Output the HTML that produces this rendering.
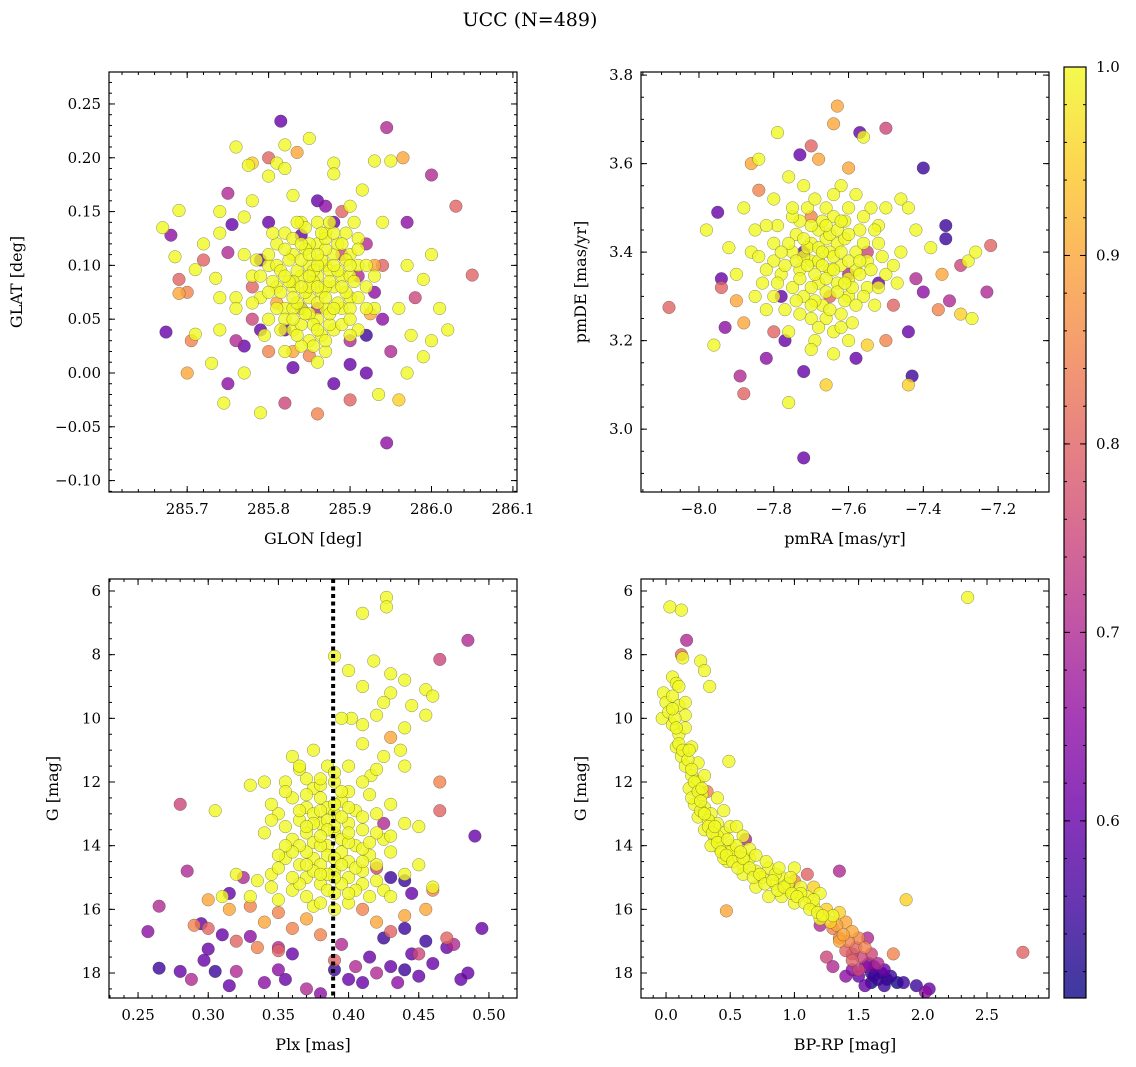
<!DOCTYPE html>
<html><head><meta charset="utf-8"><style>
html,body{margin:0;padding:0;background:#fff;}
svg{display:block;font-family:"DejaVu Serif","Liberation Serif",serif;}
</style></head><body>
<svg id="fig" width="1136" height="1067" viewBox="0 0 1136 1067" xmlns="http://www.w3.org/2000/svg">
<text x="530" y="26" font-size="19" text-anchor="middle">UCC (N=489)</text>
</svg>
<script>
// ---- data: [x, y, probability] per panel ----
const glonGlat = [[285.67,0.135,1],[285.674,0.038,0.6],[285.68,0.128,0.65],[285.685,0.108,1],[285.69,0.151,1],[285.69,0.087,0.8],[285.69,0.074,0.9],[285.7,0.075,0.85],[285.7,0.0,0.9],[285.705,0.03,0.85],[285.71,0.036,1],[285.71,0.096,1],[285.72,0.12,1],[285.72,0.105,0.8],[285.73,0.009,1],[285.735,0.088,1],[285.74,0.15,1],[285.74,0.13,1],[285.74,0.07,1],[285.74,0.04,1],[285.745,-0.028,1],[285.75,0.167,0.7],[285.75,0.112,0.7],[285.75,-0.01,0.65],[285.755,0.138,0.6],[285.76,0.21,1],[285.76,0.07,1],[285.76,0.03,0.7],[285.77,0.145,1],[285.77,0.0,1],[285.775,0.193,1],[285.78,0.195,0.95],[285.78,0.16,1],[285.78,0.08,0.8],[285.785,0.105,1],[285.79,0.04,0.6],[285.79,-0.037,1],[285.8,0.2,0.8],[285.8,0.183,1],[285.8,0.14,0.6],[285.81,0.195,1],[285.81,0.065,0.9],[285.815,0.234,0.6],[285.82,0.212,1],[285.82,0.19,1],[285.82,-0.028,0.75],[285.83,0.165,1],[285.83,0.005,0.6],[285.835,0.205,0.9],[285.84,0.128,0.6],[285.85,0.218,1],[285.85,0.016,0.85],[285.86,-0.038,0.85],[285.86,0.16,0.6],[285.87,0.155,0.65],[285.88,0.195,1],[285.88,0.185,1],[285.88,-0.01,0.6],[285.89,0.15,0.8],[285.9,0.155,1],[285.9,0.008,0.6],[285.905,0.14,1],[285.91,0.125,1],[285.915,0.17,1],[285.92,0.035,0.55],[285.92,0.12,0.7],[285.925,0.055,0.9],[285.93,0.197,1],[285.93,0.1,0.9],[285.935,-0.02,1],[285.94,0.14,1],[285.94,0.05,0.65],[285.945,0.228,0.7],[285.945,-0.065,0.65],[285.95,0.197,1],[285.95,0.02,0.7],[285.96,0.06,1],[285.965,0.2,0.9],[285.97,0.14,0.65],[285.97,0.1,1],[285.97,0.0,1],[285.975,0.035,1],[285.98,0.07,0.75],[285.99,0.087,1],[285.99,0.015,1],[286.0,0.184,0.7],[286.0,0.03,1],[286.0,0.11,1],[286.01,0.06,1],[286.02,0.04,1],[286.03,0.155,0.8],[286.05,0.091,0.8],[285.96,-0.025,0.95],[285.9,-0.025,0.8],[285.77,0.025,0.6],[285.79,0.105,0.6],
[285.80,0.10,1],[285.81,0.08,1],[285.82,0.06,1],[285.83,0.11,1],[285.84,0.09,1],[285.85,0.07,1],[285.86,0.12,1],[285.87,0.10,1],[285.88,0.08,1],[285.89,0.06,1],[285.82,0.13,1],[285.83,0.04,1],[285.84,0.14,1],[285.85,0.10,1],[285.86,0.05,1],[285.87,0.13,1],[285.88,0.11,1],[285.89,0.09,1],[285.90,0.07,1],[285.91,0.10,1],[285.79,0.07,1],[285.80,0.05,1],[285.81,0.12,1],[285.83,0.08,1],[285.84,0.06,1],[285.85,0.12,1],[285.86,0.09,1],[285.87,0.06,1],[285.88,0.04,1],[285.90,0.11,1],[285.78,0.09,1],[285.82,0.02,1],[285.85,0.03,1],[285.86,0.01,1],[285.87,0.02,1],[285.84,0.025,1],[285.92,0.08,1],[285.93,0.06,1],[285.91,0.04,1],[285.76,0.06,1],[285.77,0.11,1],[285.845,0.115,1],[285.855,0.085,1],[285.865,0.075,1],[285.835,0.095,1],[285.825,0.105,1],[285.875,0.095,1],[285.815,0.075,1],[285.885,0.12,1],[285.895,0.13,1],[285.805,0.13,1],[285.795,0.035,1],[285.86,0.14,1],[285.84,0.045,1],[285.875,0.045,1],[285.9,0.09,1],[285.81,0.1,1],[285.83,0.06,1],[285.87,0.08,1],[285.85,0.055,1],
[285.82,0.04,0.6],[285.86,0.06,0.7],[285.89,0.11,0.75],[285.91,0.09,0.7],[285.88,0.14,0.6],[285.84,0.06,0.55],[285.93,0.075,0.65],[285.8,0.02,0.85],[285.83,0.02,0.9],[285.78,0.05,0.75],[285.94,0.1,0.8],[285.9,0.03,0.7],[285.92,0.0,0.6],
[285.83,0.085,1],[285.845,0.075,1],[285.855,0.095,1],[285.865,0.105,1],[285.875,0.085,1],[285.885,0.065,1],[285.895,0.075,1],[285.905,0.085,1],[285.835,0.065,1],[285.845,0.055,1],[285.855,0.045,1],[285.865,0.035,1],[285.875,0.055,1],[285.885,0.095,1],[285.895,0.105,1],[285.825,0.085,1],[285.815,0.095,1],[285.805,0.085,1],[285.82,0.115,1],[285.83,0.125,1],[285.84,0.105,1],[285.85,0.11,1],[285.86,0.1,1],[285.87,0.115,1],[285.88,0.1,1],[285.89,0.08,1],[285.9,0.06,1],[285.91,0.07,1],[285.86,0.065,1],[285.85,0.08,1],[285.84,0.08,1],[285.83,0.07,1],[285.82,0.09,1],[285.87,0.07,1],[285.88,0.06,1],[285.86,0.08,1],[285.85,0.09,1],[285.84,0.12,1],[285.87,0.125,1],[285.88,0.13,1],[285.89,0.12,1],[285.9,0.1,1],[285.81,0.06,1],[285.82,0.05,1],[285.83,0.05,1],[285.86,0.04,1],[285.87,0.03,1],[285.89,0.045,1],[285.9,0.05,1],[285.92,0.06,1],[285.92,0.1,1],[285.8,0.11,1],[285.79,0.09,1],[285.78,0.065,1],[285.8,0.075,1],[285.93,0.09,1],[285.91,0.115,1],[285.86,0.11,1],[285.845,0.135,1],[285.865,0.13,1],[285.835,0.14,1],[285.855,0.025,1],[285.835,0.035,1],[285.815,0.04,1],[285.875,0.14,1],[285.9,0.035,1]];

const pmraPmde = [[-8.08,3.275,0.8],[-7.95,3.49,0.6],[-7.94,3.34,0.6],[-7.93,3.23,0.65],[-7.94,3.32,0.8],[-7.96,3.19,1],[-7.98,3.45,1],[-7.9,3.29,0.9],[-7.89,3.12,0.7],[-7.88,3.08,0.8],[-7.88,3.24,0.9],[-7.86,3.6,0.9],[-7.84,3.61,1],[-7.84,3.54,0.85],[-7.82,3.16,0.65],[-7.8,3.22,0.8],[-7.79,3.67,1],[-7.77,3.2,0.6],[-7.76,3.06,1],[-7.73,3.62,0.6],[-7.72,2.935,0.6],[-7.72,3.13,0.6],[-7.7,3.64,0.8],[-7.68,3.61,0.9],[-7.66,3.1,0.95],[-7.64,3.69,0.9],[-7.63,3.73,0.9],[-7.6,3.59,0.9],[-7.58,3.16,0.6],[-7.57,3.67,0.6],[-7.56,3.66,1],[-7.55,3.19,0.95],[-7.52,3.33,0.6],[-7.5,3.68,0.75],[-7.5,3.2,0.85],[-7.46,3.52,1],[-7.44,3.22,0.6],[-7.44,3.1,0.95],[-7.43,3.12,0.55],[-7.42,3.34,0.7],[-7.4,3.59,0.55],[-7.4,3.31,0.65],[-7.38,3.41,1],[-7.36,3.27,0.85],[-7.34,3.46,0.55],[-7.34,3.43,0.55],[-7.33,3.29,0.7],[-7.3,3.26,0.95],[-7.3,3.37,0.75],[-7.28,3.38,1],[-7.26,3.4,1],[-7.27,3.25,1],[-7.23,3.31,0.7],[-7.22,3.415,0.8],[-7.35,3.35,0.9],[-7.48,3.28,0.8],[-7.46,3.4,1],[-7.44,3.5,1],[-7.42,3.45,1],[-7.52,3.46,1],[-7.5,3.5,1],[-7.8,3.3,1],[-7.82,3.27,1],[-7.85,3.45,1],[-7.86,3.4,1],[-7.88,3.5,1],[-7.9,3.35,1],[-7.92,3.41,1],[-7.8,3.52,1],[-7.76,3.57,1],[-7.72,3.55,1],[-7.62,3.55,1],[-7.58,3.53,1],
[-7.75,3.4,1],[-7.7,3.38,1],[-7.65,3.36,1],[-7.6,3.34,1],[-7.55,3.32,1],[-7.72,3.3,1],[-7.67,3.28,1],[-7.62,3.26,1],[-7.78,3.35,1],[-7.68,3.45,1],[-7.63,3.42,1],[-7.58,3.4,1],[-7.73,3.47,1],[-7.66,3.5,1],[-7.7,3.25,1],[-7.64,3.22,1],[-7.6,3.3,1],[-7.55,3.38,1],[-7.75,3.32,1],[-7.8,3.42,1],[-7.7,3.42,1],[-7.65,3.4,1],[-7.62,3.37,1],[-7.68,3.33,1],[-7.73,3.36,1],[-7.57,3.45,1],[-7.53,3.28,1],[-7.77,3.27,1],[-7.66,3.31,1],[-7.61,3.47,1],[-7.71,3.5,1],[-7.74,3.44,1],[-7.59,3.24,1],[-7.69,3.2,1],[-7.76,3.22,1],[-7.52,3.42,1],[-7.64,3.48,1],[-7.68,3.38,1],[-7.63,3.33,1],[-7.58,3.36,1],[-7.72,3.39,1],[-7.56,3.3,1],[-7.8,3.38,1],[-7.66,3.43,1],[-7.61,3.29,1],[-7.75,3.48,1],[-7.69,3.29,1],[-7.83,3.33,1],[-7.5,3.35,1],[-7.54,3.5,1],
[-7.6,3.35,0.7],[-7.72,3.4,0.6],[-7.65,3.3,0.8],[-7.7,3.48,0.85],[-7.55,3.4,0.75],[-7.78,3.3,0.6],
[-7.67,3.37,1],[-7.64,3.39,1],[-7.69,3.35,1],[-7.62,3.4,1],[-7.71,3.41,1],[-7.66,3.34,1],[-7.63,3.31,1],[-7.7,3.32,1],[-7.6,3.38,1],[-7.74,3.38,1],[-7.65,3.44,1],[-7.68,3.41,1],[-7.61,3.43,1],[-7.72,3.43,1],[-7.59,3.32,1],[-7.57,3.35,1],[-7.77,3.37,1],[-7.79,3.33,1],[-7.76,3.42,1],[-7.73,3.34,1],[-7.67,3.47,1],[-7.63,3.45,1],[-7.6,3.44,1],[-7.56,3.42,1],[-7.54,3.36,1],[-7.52,3.32,1],[-7.58,3.28,1],[-7.62,3.23,1],[-7.66,3.25,1],[-7.7,3.28,1],[-7.74,3.29,1],[-7.78,3.4,1],[-7.82,3.36,1],[-7.84,3.39,1],[-7.69,3.52,1],[-7.64,3.53,1],[-7.6,3.5,1],[-7.56,3.48,1],[-7.53,3.45,1],[-7.67,3.4,1],[-7.64,3.36,1],[-7.71,3.37,1],[-7.65,3.27,1],[-7.61,3.33,1],[-7.57,3.38,1],[-7.73,3.26,1],[-7.68,3.23,1],[-7.79,3.46,1],[-7.75,3.5,1],[-7.7,3.46,1],[-7.66,3.46,1],[-7.62,3.47,1],[-7.51,3.39,1],[-7.48,3.37,1],[-7.47,3.33,1],[-7.85,3.3,1],[-7.82,3.46,1],[-7.7,3.18,1],[-7.64,3.17,1],[-7.6,3.2,1]];

const plxG = [[0.427,6.2,1],[0.427,6.5,1],[0.41,6.7,1],[0.39,8.05,1],[0.4,8.5,1],[0.418,8.2,1],[0.43,8.6,1],[0.44,8.8,1],[0.41,9.0,1],[0.43,9.2,1],[0.445,9.6,1],[0.455,9.1,1],[0.46,9.3,1],[0.425,9.5,1],[0.42,9.9,1],[0.402,10.0,1],[0.41,10.2,1],[0.44,10.3,1],[0.455,9.9,1],[0.43,10.6,0.9],[0.41,10.8,1],[0.425,11.2,1],[0.4,11.5,1],[0.416,11.8,1],[0.437,11.0,1],[0.465,8.15,0.75],[0.485,7.55,0.7],[0.395,10.0,1],
[0.36,11.2,1],[0.365,11.6,1],[0.37,11.9,1],[0.355,12.0,1],[0.375,12.2,1],[0.38,12.5,1],[0.385,12.8,1],[0.39,13.0,1],[0.395,12.6,1],[0.4,12.3,1],[0.405,12.9,1],[0.37,12.8,1],[0.36,12.5,1],[0.35,13.0,1],[0.38,13.3,1],[0.39,13.6,1],[0.4,13.3,1],[0.41,13.5,1],[0.42,13.0,1],[0.37,13.6,1],[0.36,13.8,1],[0.385,14.0,1],[0.395,14.2,1],[0.405,14.0,1],[0.415,14.3,1],[0.375,14.4,1],[0.365,14.6,1],[0.355,14.4,1],[0.39,14.8,1],[0.4,15.0,1],[0.38,15.2,1],[0.41,14.8,1],[0.42,14.6,1],[0.43,14.2,1],[0.345,14.9,1],[0.335,15.1,1],[0.37,15.0,1],[0.39,15.5,1],[0.36,15.4,1],[0.425,15.4,1],[0.44,14.9,1],[0.35,15.7,1],[0.33,15.6,1],[0.4,15.8,1],[0.415,15.6,1],[0.375,15.9,1],[0.385,11.5,1],[0.345,12.7,1],[0.34,12.0,1],[0.33,12.1,1],[0.415,12.4,1],[0.425,13.8,1],[0.38,14.6,1],[0.395,15.2,1],[0.365,13.2,1],[0.355,13.4,1],[0.34,13.6,1],[0.43,12.7,1],[0.305,12.9,1],[0.44,13.3,1],[0.45,13.4,1],[0.45,14.6,1],[0.46,15.3,1],[0.32,14.9,1],[0.31,15.6,1],[0.39,12.0,1],[0.41,12.0,1],[0.42,11.6,1],[0.44,11.5,1],
[0.3,15.7,0.9],[0.315,16.0,0.9],[0.33,15.9,0.85],[0.34,16.4,0.9],[0.35,16.1,0.85],[0.36,16.6,0.85],[0.37,16.3,0.9],[0.38,16.8,0.85],[0.41,16.0,0.85],[0.42,16.4,0.9],[0.43,16.7,0.8],[0.44,16.2,0.9],[0.455,16.0,0.9],[0.46,15.4,0.85],[0.47,16.9,0.8],[0.465,12.0,0.85],[0.465,12.9,0.8],[0.425,13.3,0.7],[0.42,14.7,0.75],[0.43,15.0,0.55],[0.445,15.5,0.6],[0.44,15.1,0.55],[0.325,15.0,0.7],[0.315,15.5,0.6],[0.28,12.7,0.75],[0.285,14.8,0.7],[0.265,15.9,0.7],[0.29,16.5,0.85],[0.3,16.6,0.8],[0.32,17.0,0.8],[0.335,17.2,0.85],[0.35,17.3,0.8],[0.39,17.6,0.8],[0.45,17.4,0.75],[0.475,17.1,0.7],[0.49,13.7,0.6],[0.495,16.6,0.6],
[0.257,16.7,0.65],[0.265,17.85,0.55],[0.28,17.95,0.6],[0.288,18.2,0.7],[0.295,16.45,0.6],[0.297,17.6,0.6],[0.3,17.25,0.6],[0.305,17.95,0.55],[0.31,16.8,0.6],[0.315,18.4,0.6],[0.32,17.95,0.7],[0.33,16.85,0.65],[0.34,18.3,0.65],[0.35,17.9,0.65],[0.355,18.2,0.6],[0.36,17.4,0.6],[0.37,18.5,0.7],[0.38,18.65,0.65],[0.39,17.9,0.55],[0.4,18.2,0.6],[0.405,17.8,0.7],[0.41,18.3,0.6],[0.415,17.5,0.6],[0.42,18.0,0.7],[0.425,16.9,0.55],[0.43,17.8,0.6],[0.435,18.3,0.65],[0.44,17.9,0.55],[0.445,17.4,0.6],[0.45,18.1,0.6],[0.455,17.0,0.55],[0.46,17.7,0.6],[0.47,17.2,0.6],[0.48,18.2,0.6],[0.485,18.0,0.6],[0.44,16.6,0.55],[0.395,17.1,0.7],[0.35,17.2,0.7],
[0.375,13.0,1],[0.38,12.9,1],[0.385,13.2,1],[0.39,13.4,1],[0.395,13.8,1],[0.4,14.5,1],[0.385,14.3,1],[0.375,13.9,1],[0.37,14.2,1],[0.38,14.0,1],[0.39,14.4,1],[0.395,14.6,1],[0.405,14.7,1],[0.4,13.9,1],[0.41,14.1,1],[0.385,13.5,1],[0.375,13.3,1],[0.365,14.0,1],[0.36,14.2,1],[0.37,13.4,1],[0.38,13.7,1],[0.39,15.0,1],[0.385,15.4,1],[0.375,14.8,1],[0.365,15.2,1],[0.41,15.2,1],[0.405,15.4,1],[0.395,12.3,1],[0.38,12.1,1],[0.37,12.4,1],[0.365,12.9,1],[0.355,14.0,1],[0.35,14.3,1],[0.4,12.8,1],[0.41,13.1,1],[0.42,13.6,1],[0.415,13.9,1],[0.39,11.7,1],[0.375,11.0,1],[0.38,11.9,1],[0.385,14.9,1],[0.395,13.1,1],[0.4,13.6,1],[0.41,14.5,1],[0.36,15.0,1],[0.37,15.6,1],[0.38,15.8,1],[0.39,16.0,1],[0.345,15.3,1],[0.35,14.7,1],[0.355,12.3,1],[0.365,11.5,1],[0.39,12.7,1],[0.4,15.5,1],[0.42,15.1,1],[0.43,15.6,1],[0.43,13.7,1],[0.345,13.2,1],[0.38,14.9,1],[0.37,14.6,1]];

const bprpG = [[2.35,6.2,1],[0.03,6.5,1],[0.12,6.6,1],[0.16,7.55,0.7],[0.12,8.0,0.8],[0.13,8.1,1],[0.27,8.2,1],[0.3,8.5,1],[0.34,9.0,1],[0.05,8.7,1],[0.08,8.9,1],[0.1,9.0,1],[-0.02,9.2,1],[0.0,9.5,1],[0.05,9.3,1],[0.1,9.6,1],[0.15,9.5,1],[0.15,9.9,1],[-0.03,10.0,1],[0.05,10.2,1],[0.1,10.5,1],[0.15,10.3,1],[0.08,10.9,1],[0.12,11.2,1],[0.15,11.5,1],[0.2,11.8,1],[0.25,12.0,1],[0.18,12.2,1],[0.28,12.4,1],[0.32,12.3,0.85],[0.22,12.7,1],[0.3,12.8,1],[0.35,13.0,1],[0.25,13.1,1],[0.4,13.3,1],[0.3,13.5,1],[0.45,13.6,1],[0.38,13.8,1],[0.5,13.4,1],[0.49,11.35,1],[0.5,14.0,1],[0.42,14.1,1],[0.55,14.3,1],[0.48,14.5,1],[0.6,14.6,1],[0.65,14.4,1],[0.7,14.8,1],[0.6,14.9,1],[0.75,15.0,1],[0.8,14.7,1],[0.85,15.2,1],[0.9,15.0,1],[0.7,15.3,1],[0.95,15.4,1],[1.0,14.7,1],[1.05,15.3,1],[0.9,15.6,1],[1.1,15.6,1],[1.0,15.8,1],[1.15,15.9,1],[1.2,15.5,1],[0.8,15.6,1],[0.47,16.05,0.9],[1.25,16.0,0.95],[1.3,16.2,1],[1.35,16.1,0.95],[1.4,16.4,0.9],[1.2,16.3,1],[1.45,16.7,0.9],[1.3,16.6,0.85],[1.5,16.9,0.85],[1.35,17.0,0.9],[1.55,17.2,0.85],[1.4,17.3,0.8],[1.6,17.4,0.75],[1.45,17.6,0.8],[1.5,17.9,0.75],[1.65,17.7,0.7],[1.7,17.9,0.6],[1.75,18.1,0.55],[1.65,18.2,0.55],[1.6,18.0,0.55],[1.8,18.3,0.5],[1.85,18.3,0.55],[1.95,18.4,0.55],[2.05,18.5,0.6],[2.02,18.6,0.65],[1.55,18.4,0.6],[1.4,18.1,0.65],[1.3,17.8,0.7],[1.25,17.5,0.75],[1.57,16.9,0.7],[1.35,14.8,0.7],[1.87,15.7,0.95],[1.77,17.4,0.85],[2.78,17.35,0.8],[0.62,13.8,0.7],[1.0,15.1,0.85],[1.1,14.9,0.8],[1.15,15.3,0.95],[1.2,16.5,0.7],[1.45,17.9,0.65],[1.6,18.3,0.5],[1.7,18.4,0.55],[1.5,18.1,0.6],[0.2,10.9,1],[0.25,11.4,1],[0.3,11.8,1],[0.4,12.5,1],[0.45,12.9,1],[0.55,13.4,1],[0.6,13.7,1],[0.35,14.0,1],[0.65,14.1,1],[0.7,14.3,1],[0.78,14.5,1],[0.85,14.9,1],[0.95,15.2,1],[1.05,15.5,1],[1.15,15.7,1],[0.02,9.8,1],[0.07,10.0,1],[0.2,12.5,1],[0.27,12.9,1],[0.33,13.2,1],[0.4,13.7,1],[0.5,14.2,1],[0.55,14.0,1],[0.45,14.4,1],
[0.05,9.7,1],[0.08,10.3,1],[0.1,10.8,1],[0.13,11.0,1],[0.17,11.3,1],[0.2,11.6,1],[0.22,12.0,1],[0.25,12.3,1],[0.27,12.6,1],[0.3,13.0,1],[0.33,13.4,1],[0.36,13.6,1],[0.4,13.9,1],[0.43,14.2,1],[0.47,14.3,1],[0.52,14.5,1],[0.56,14.7,1],[0.6,14.4,1],[0.65,14.7,1],[0.68,15.0,1],[0.73,14.9,1],[0.77,15.2,1],[0.83,15.1,1],[0.87,15.4,1],[0.92,15.3,1],[0.98,15.5,1],[1.02,15.6,1],[1.08,15.8,1],[1.12,16.0,1],[1.18,16.1,1],[1.22,16.2,1],[1.28,16.4,0.95],[1.33,16.5,0.9],[1.38,16.8,0.9],[1.42,17.0,0.85],[1.48,17.2,0.8],[1.52,17.5,0.75],[1.58,17.7,0.65],[1.62,17.8,0.6],[1.68,18.0,0.55],[1.72,18.2,0.52],[1.62,18.1,0.55],[1.55,17.8,0.65],[1.45,17.4,0.75],[1.35,16.9,0.85],[0.18,11.0,1],[0.28,12.2,1],[0.38,13.4,1],[0.48,13.8,1],[0.58,14.2,1],[0.88,14.7,1],[0.97,15.0,1]];

const plxLine = 0.389;
const probMin = 0.506, probMax = 1.0;
const cbTicks = [0.6, 0.7, 0.8, 0.9, 1.0];

const NS = "http://www.w3.org/2000/svg";
const svg = document.getElementById('fig');
function mk(tag, attrs, parent){const e=document.createElementNS(NS,tag);for(const k in attrs)e.setAttribute(k,attrs[k]);(parent||svg).appendChild(e);return e;}

const plasma=[[13,8,135],[65,4,157],[106,0,168],[143,13,164],[177,42,144],[204,71,120],[225,100,98],[242,132,75],[252,166,54],[252,206,37],[240,249,33]];
function cmap(p){let t=(p-probMin)/(probMax-probMin);t=Math.max(0,Math.min(1,t));const f=t*10,i=Math.min(9,Math.floor(f)),r=f-i;const a=plasma[i],b=plasma[i+1];return `rgb(${Math.round(a[0]+(b[0]-a[0])*r)},${Math.round(a[1]+(b[1]-a[1])*r)},${Math.round(a[2]+(b[2]-a[2])*r)})`;}
function fmt(v,d){const s=v.toFixed(d);return v<-1e-9?'\u2212'+s.slice(1):s;}

const panels=[
 {name:'glon-glat',data:glonGlat,x0:109,y0:72,w:408,h:420,xmin:285.604,xmax:286.105,ymin:-0.1106,ymax:0.2797,inv:false,
  xt:[285.7,285.8,285.9,286.0,286.1],xd:1,xm:0.02,yt:[-0.10,-0.05,0,0.05,0.10,0.15,0.20,0.25],yd:2,ym:0.01,xl:'GLON [deg]',yl:'GLAT [deg]',ylx:22},
 {name:'pmra-pmde',data:pmraPmde,x0:641,y0:72,w:408,h:420,xmin:-8.155,xmax:-7.064,ymin:2.858,ymax:3.807,inv:false,
  xt:[-8.0,-7.8,-7.6,-7.4,-7.2],xd:1,xm:0.05,yt:[3.0,3.2,3.4,3.6,3.8],yd:1,ym:0.05,xl:'pmRA [mas/yr]',yl:'pmDE [mas/yr]',ylx:586},
 {name:'plx-g',data:plxG,x0:109,y0:579,w:408,h:419,xmin:0.2293,xmax:0.52,ymin:5.623,ymax:18.785,inv:true,
  xt:[0.25,0.30,0.35,0.40,0.45,0.50],xd:2,xm:0.01,yt:[6,8,10,12,14,16,18],yd:0,ym:0.5,xl:'Plx [mas]',yl:'G [mag]',ylx:58},
 {name:'bprp-g',data:bprpG,x0:641,y0:579,w:408,h:419,xmin:-0.195,xmax:2.983,ymin:5.623,ymax:18.785,inv:true,
  xt:[0,0.5,1.0,1.5,2.0,2.5],xd:1,xm:0.1,yt:[6,8,10,12,14,16,18],yd:0,ym:0.5,xl:'BP-RP [mag]',yl:'G [mag]',ylx:586}
];

panels.forEach((P,pi)=>{
  const sx=v=>P.x0+(v-P.xmin)/(P.xmax-P.xmin)*P.w;
  const sy=v=>P.inv? P.y0+(v-P.ymin)/(P.ymax-P.ymin)*P.h : P.y0+P.h-(v-P.ymin)/(P.ymax-P.ymin)*P.h;
  const g=mk('g',{});
  
  
  const clipId='clip'+pi;
  const cp=mk('clipPath',{id:clipId},g);mk('rect',{x:P.x0,y:P.y0,width:P.w,height:P.h},cp);
  const pts=mk('g',{'clip-path':`url(#${clipId})`},g);
  
  
  const sorted=P.data.slice().sort((a,b)=>a[2]-b[2]);
  sorted.forEach(d=>{
    const c=mk('circle',{cx:sx(d[0]).toFixed(1),cy:sy(d[1]).toFixed(1),r:6.3,fill:cmap(d[2]),'fill-opacity':0.8,stroke:'#333','stroke-width':0.4,'stroke-opacity':0.7},pts);
    
    
  });
  if(P.name==='plx-g'){
    const l=mk('line',{x1:sx(plxLine),x2:sx(plxLine),y1:P.y0,y2:P.y0+P.h,stroke:'#000','stroke-width':4,'stroke-dasharray':'4,3.5'},g);
    
    
  }
  const tk=mk('g',{stroke:'#000','stroke-width':1},g);
  const xs=Math.ceil((P.xmin)/P.xm-1e-6), xe=Math.floor(P.xmax/P.xm+1e-6);
  for(let k=xs;k<=xe;k++){const v=k*P.xm,x=sx(v);mk('line',{x1:x,x2:x,y1:P.y0,y2:P.y0+3},tk);mk('line',{x1:x,x2:x,y1:P.y0+P.h,y2:P.y0+P.h-3},tk);}
  const lo=Math.min(P.ymin,P.ymax),hi=Math.max(P.ymin,P.ymax);
  const ys=Math.ceil(lo/P.ym-1e-6), ye=Math.floor(hi/P.ym+1e-6);
  for(let k=ys;k<=ye;k++){const y=sy(k*P.ym);mk('line',{x1:P.x0,x2:P.x0+3,y1:y,y2:y},tk);mk('line',{x1:P.x0+P.w,x2:P.x0+P.w-3,y1:y,y2:y},tk);}
  P.xt.forEach(v=>{const x=sx(v);mk('line',{x1:x,x2:x,y1:P.y0,y2:P.y0+6},tk);mk('line',{x1:x,x2:x,y1:P.y0+P.h,y2:P.y0+P.h-6},tk);
    const t=mk('text',{x:x,y:P.y0+P.h+22,'font-size':15,'text-anchor':'middle'},g);t.textContent=fmt(v,P.xd);
    
    });
  P.yt.forEach(v=>{const y=sy(v);if(y<P.y0-1||y>P.y0+P.h+1)return;mk('line',{x1:P.x0,x2:P.x0+6,y1:y,y2:y},tk);mk('line',{x1:P.x0+P.w,x2:P.x0+P.w-6,y1:y,y2:y},tk);
    const t=mk('text',{x:P.x0-8,y:y+5,'font-size':15,'text-anchor':'end'},g);t.textContent=fmt(v,P.yd);
    
    });
  const fr=mk('rect',{x:P.x0,y:P.y0,width:P.w,height:P.h,fill:'none',stroke:'#000','stroke-width':1.2},g);
  
  
  const xl=mk('text',{x:P.x0+P.w/2,y:P.y0+P.h+52,'font-size':16,'text-anchor':'middle'},g);xl.textContent=P.xl;
  
  
  const cy=P.y0+P.h/2;
  const yl=mk('text',{x:P.ylx,y:cy,'font-size':16,'text-anchor':'middle',transform:`rotate(-90 ${P.ylx} ${cy})`},g);yl.textContent=P.yl;
  
  
});

const cb=mk('g',{});


const defs=mk('defs',{},cb);
const lg=mk('linearGradient',{id:'plasmaGrad',x1:0,y1:1,x2:0,y2:0},defs);
plasma.forEach((c,i)=>mk('stop',{offset:(i/10).toFixed(2),'stop-color':`rgb(${c[0]},${c[1]},${c[2]})`,'stop-opacity':0.8},lg));
const cbx=1064,cby=67,cbw=22,cbh=931;
mk('rect',{x:cbx,y:cby,width:cbw,height:cbh,fill:'url(#plasmaGrad)',stroke:'#000','stroke-width':1.2},cb);
const cs=v=>cby+cbh-(v-probMin)/(probMax-probMin)*cbh;
for(let k=26;k<=50;k++){const y=cs(k*0.02);mk('line',{x1:cbx+cbw,x2:cbx+cbw-3,y1:y,y2:y,stroke:'#000'},cb);mk('line',{x1:cbx,x2:cbx+3,y1:y,y2:y,stroke:'#000'},cb);}
cbTicks.forEach(v=>{const y=cs(v);mk('line',{x1:cbx+cbw,x2:cbx+cbw-6,y1:y,y2:y,stroke:'#000'},cb);mk('line',{x1:cbx,x2:cbx+6,y1:y,y2:y,stroke:'#000'},cb);
  const t=mk('text',{x:cbx+cbw+10,y:y+5,'font-size':15},cb);t.textContent=v.toFixed(1);
  
  });
</script>
</body></html>
